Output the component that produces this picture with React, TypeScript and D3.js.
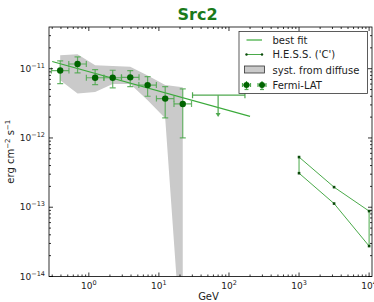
import React from "react";
import * as d3 from "d3";

// Fermi-LAT flux points (GeV, erg cm^-2 s^-1)
const fermiE = [0.39, 0.69, 1.23, 2.19, 3.9, 6.9, 12.3, 21.9];
const fermiF = [9.4e-12, 1.17e-11, 7.4e-12, 7.4e-12, 7.5e-12, 5.8e-12, 3.7e-12, 3.1e-12];
const fermiLo = [6.1e-12, 8.7e-12, 5.9e-12, 5.3e-12, 5.5e-12, 4.0e-12, 1.95e-12, 1.0e-12];
const fermiHi = [1.3e-11, 1.48e-11, 9.7e-12, 9.5e-12, 9.4e-12, 7.7e-12, 5.5e-12, 5.1e-12];
const binHalf = 1.334; // half-bin factor (0.125 decade)

// upper limit bin
const ulE = [70];
const ulELo = [30.2];
const ulEHi = [169];
const ulF = [4.15e-12];

// systematic band from diffuse model
const bandUp = [1.57e-11, 1.62e-11, 1.12e-11, 1.09e-11, 1.07e-11, 8.0e-12, 5.8e-12, 5.4e-12];
const bandLo = [6.8e-12, 4.4e-12, 4.6e-12, 6.0e-12, 6.0e-12, 3.5e-12, 1.93e-12, 5e-16];

// best fit power law
const fitE = [0.3, 200];
const fitF = [1.27e-11, 2.05e-12];

// H.E.S.S. butterfly
const hessE = [1000, 3162, 10000];
const hessUp = [5.3e-13, 1.95e-13, 8.8e-14];
const hessLo = [3.1e-13, 1.13e-13, 2.75e-14];

const xTicks = [1, 10, 100, 1000, 10000];
const xTickExp = ["0", "1", "2", "3", "4"];
const yTicks = [1e-14, 1e-13, 1e-12, 1e-11];
const yTickExp = ["\u221214", "\u221213", "\u221212", "\u221211"];

const W = 374, H = 302;
const m = { top: 27, right: 2, bottom: 25.5, left: 49 };
const font = "DejaVu Sans, sans-serif";
const dark = "#006400";
const errCol = "#4fa84f";
const fitCol = "#3aaa3a";

export default function App() {
  const x = d3.scaleLog().domain([0.27, 1.1e4]).range([m.left, W - m.right]);
  const y = d3.scaleLog().domain([1e-14, 4e-11]).range([H - m.bottom, m.top]);
  const [x0, x1] = x.range();
  const [y0, y1] = y.range();

  const minorX: number[] = [];
  for (let d = -1; d <= 4; d++)
    for (let k = 2; k <= 9; k++) {
      const v = k * Math.pow(10, d);
      if (v > 0.27 && v < 1.1e4) minorX.push(v);
    }
  const minorY: number[] = [];
  for (let d = -14; d <= -11; d++)
    for (let k = 2; k <= 9; k++) {
      const v = k * Math.pow(10, d);
      if (v > 1e-14 && v < 4e-11) minorY.push(v);
    }

  const band = d3.area<number>()
    .x((_, i) => x(fermiE[i]))
    .y0((_, i) => y(bandLo[i]))
    .y1((_, i) => y(bandUp[i]));

  const fitLine = d3.line<number>().x((d) => x(d)).y((_, i) => y(fitF[i]));

  const hessPts = [
    ...hessE.map((e, i) => [x(e), y(hessUp[i])]),
    ...hessE.map((e, i) => [x(e), y(hessLo[i])]).reverse(),
  ] as [number, number][];
  const hessPath = d3.line()(hessPts) + "Z";

  const cap = 3;

  return (
    <svg width={W} height={H} style={{ position: "absolute", left: 0, top: 0, background: "#fff" }}>
      <defs>
        <clipPath id="plot">
          <rect x={x0} y={y1} width={x1 - x0} height={y0 - y1} />
        </clipPath>
      </defs>
      <text x={(x0 + x1) / 2 - 13} y={20} textAnchor="middle" fontFamily={font} fontWeight="bold" fontSize={16} fill="#1a7a1a">Src2</text>

      <g clipPath="url(#plot)">
        <path d={band(fermiE) || ""} fill="#cacaca" />
        <path d={fitLine(fitE) || ""} fill="none" stroke={fitCol} strokeWidth={1.2} />
        <path d={hessPath} fill="none" stroke="#4aaa4a" strokeWidth={1} />
        {hessPts.map((p, i) => (
          <rect key={i} x={p[0] - 1.3} y={p[1] - 1.3} width={2.6} height={2.6} fill="#0a4a0a" />
        ))}
        {/* upper limit */}
        {ulE.map((e, i) => {
          const cx = x(e), cy = y(ulF[i]), ay = y(ulF[i] * 0.5);
          return (
            <g key={i} stroke={errCol} strokeWidth={1.2} fill={errCol}>
              <line x1={x(ulELo[i])} x2={x(ulEHi[i])} y1={cy} y2={cy} />
              <line x1={x(ulELo[i])} x2={x(ulELo[i])} y1={cy - cap} y2={cy + cap} />
              <line x1={x(ulEHi[i])} x2={x(ulEHi[i])} y1={cy - cap} y2={cy + cap} />
              <line x1={cx} x2={cx} y1={cy} y2={ay - 2} />
              <path d={`M${cx - 2.5},${ay - 3}L${cx + 2.5},${ay - 3}L${cx},${ay + 1}Z`} stroke="none" />
            </g>
          );
        })}
        {fermiE.map((e, i) => {
          const cx = x(e), cy = y(fermiF[i]);
          const xl = x(e / binHalf), xr = x(e * binHalf);
          const yt = y(fermiHi[i]), yb = y(fermiLo[i]);
          return (
            <g key={i} stroke={errCol} strokeOpacity={0.85} strokeWidth={1.2}>
              <line x1={xl} x2={xr} y1={cy} y2={cy} />
              <line x1={xl} x2={xl} y1={cy - cap} y2={cy + cap} />
              <line x1={xr} x2={xr} y1={cy - cap} y2={cy + cap} />
              <line x1={cx} x2={cx} y1={yt} y2={yb} />
              <line x1={cx - cap} x2={cx + cap} y1={yt} y2={yt} />
              <line x1={cx - cap} x2={cx + cap} y1={yb} y2={yb} />
              <circle cx={cx} cy={cy} r={3.2} fill={dark} stroke="none" />
            </g>
          );
        })}
      </g>

      {/* axes frame and ticks */}
      <g stroke="#000" strokeWidth={0.8}>
        {xTicks.map((t) => (
          <g key={t}>
            <line x1={x(t)} x2={x(t)} y1={y0} y2={y0 - 4} />
            <line x1={x(t)} x2={x(t)} y1={y1} y2={y1 + 4} />
          </g>
        ))}
        {minorX.map((t) => (
          <g key={t}>
            <line x1={x(t)} x2={x(t)} y1={y0} y2={y0 - 2} />
            <line x1={x(t)} x2={x(t)} y1={y1} y2={y1 + 2} />
          </g>
        ))}
        {yTicks.map((t) => (
          <g key={t}>
            <line x1={x0} x2={x0 + 4} y1={y(t)} y2={y(t)} />
            <line x1={x1} x2={x1 - 4} y1={y(t)} y2={y(t)} />
          </g>
        ))}
        {minorY.map((t) => (
          <g key={t}>
            <line x1={x0} x2={x0 + 2} y1={y(t)} y2={y(t)} />
            <line x1={x1} x2={x1 - 2} y1={y(t)} y2={y(t)} />
          </g>
        ))}
        <rect x={x0} y={y1} width={x1 - x0} height={y0 - y1} fill="none" />
      </g>

      {xTicks.map((t, i) => (
        <text key={t} x={x(t)} y={y0 + 12.5} textAnchor="middle" fontFamily={font} fontSize={9} fill="#222">
          10<tspan dy={-4} fontSize={6.5}>{xTickExp[i]}</tspan>
        </text>
      ))}
      {yTicks.map((t, i) => (
        <text key={t} x={x0 - 4} y={y(t) + 3} textAnchor="end" fontFamily={font} fontSize={9} fill="#222">
          10<tspan dy={-4} fontSize={6.5}>{yTickExp[i]}</tspan>
        </text>
      ))}
      <text x={(x0 + x1) / 2 - 2} y={300} textAnchor="middle" fontFamily={font} fontSize={10} fill="#222">GeV</text>
      <text transform={`translate(14,${(y0 + y1) / 2}) rotate(-90)`} textAnchor="middle" fontFamily={font} fontSize={10} fill="#222">
        erg cm<tspan dy={-4} fontSize={7}>{"\u22122"}</tspan><tspan dy={4}> s</tspan><tspan dy={-4} fontSize={7}>{"\u22121"}</tspan>
      </text>

      {/* legend */}
      <g fontFamily={font} fontSize={10} fill="#222">
        <rect x={239} y={31.5} width={128.5} height={62} fill="#fff" stroke="#333" strokeWidth={0.8} />
        <line x1={246.5} x2={262} y1={40} y2={40} stroke={fitCol} strokeWidth={1.2} />
        <text x={272.5} y={43.5}>best fit</text>
        <line x1={246.5} x2={262} y1={54.5} y2={54.5} stroke="#4aaa4a" strokeWidth={1} />
        <circle cx={246.5} cy={54.5} r={1.2} fill="#0a4a0a" />
        <circle cx={262} cy={54.5} r={1.2} fill="#0a4a0a" />
        <text x={272.5} y={58}>H.E.S.S. ('C')</text>
        <rect x={244.5} y={66} width={20} height={7} fill="#cacaca" stroke="#333" strokeWidth={0.8} />
        <text x={272.5} y={73.5}>syst. from diffuse</text>
        {[246.5, 262].map((cx) => (
          <g key={cx} stroke={errCol} strokeWidth={1.2}>
            <line x1={cx - 4} x2={cx + 4} y1={85} y2={85} />
            <line x1={cx - 4} x2={cx - 4} y1={83} y2={87} />
            <line x1={cx + 4} x2={cx + 4} y1={83} y2={87} />
            <line x1={cx} x2={cx} y1={81} y2={89.5} />
            <line x1={cx - 2} x2={cx + 2} y1={89.5} y2={89.5} />
            <circle cx={cx} cy={85} r={3} fill={dark} stroke="none" />
          </g>
        ))}
        <text x={272.5} y={88.5}>Fermi-LAT</text>
      </g>
    </svg>
  );
}
